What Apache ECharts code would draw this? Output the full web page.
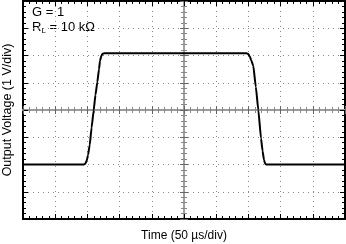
<!DOCTYPE html>
<html>
<head>
<meta charset="utf-8">
<script src="https://cdn.jsdelivr.net/npm/echarts@6/dist/echarts.min.js"></script>
<style>html,body{margin:0;padding:0;background:#fff;}#c{width:346px;height:244px;}</style>
</head>
<body>
<div id="c"></div>
<script>
// Time in microseconds (50 µs/div, 10 divisions)
var timeUs = [0, 94, 96.7, 99, 101, 103.6, 106.5, 109.8, 112.5, 115.4, 118, 119.6, 121.5, 123.5, 126, 130,
  347, 349.5, 352, 354.5, 357.6, 361.5, 365.4, 369.6, 372, 374.2, 376, 378.4, 381, 500];
// Output voltage in volts (1 V/div)
var voltsV = [-2.0, -2.0, -1.97, -1.85, -1.65, -1.28, -0.65, 0, 0.55, 1.02, 1.5, 1.8, 1.98, 2.06, 2.08, 2.08,
  2.08, 2.06, 1.97, 1.82, 1.62, 0.85, 0, -1.04, -1.5, -1.83, -1.97, -2.0, -2.0, -2.0];
var xRange = [0, 500], xStep = 50;
var yRange = [-4, 4], yStep = 1;
var xTitle = 'Time (50 µs/div)';
var yTitle = 'Output Voltage (1 V/div)';
var noteG = 'G = 1';

var data = timeUs.map(function (t, i) { return [t, voltsV[i]]; });
var font = 'Liberation Sans, Arial, sans-serif';
function xA(opts) {
  return Object.assign({
    type: 'value', min: xRange[0], max: xRange[1], interval: xStep,
    axisLabel: { show: false }, splitLine: { show: false },
    axisLine: { onZero: false, lineStyle: { color: '#000', width: 2 } },
    axisTick: { show: true, inside: true, length: 5, lineStyle: { color: '#000', width: 1 } },
    minorTick: { show: true, splitNumber: 5, length: 3, lineStyle: { color: '#000', width: 1 } }
  }, opts);
}
function yA(opts) {
  return Object.assign({
    type: 'value', min: yRange[0], max: yRange[1], interval: yStep,
    axisLabel: { show: false }, splitLine: { show: false },
    axisLine: { onZero: false, lineStyle: { color: '#000', width: 2 } },
    axisTick: { show: true, inside: true, length: 5, lineStyle: { color: '#000', width: 1 } },
    minorTick: { show: true, splitNumber: 5, length: 3, lineStyle: { color: '#000', width: 1 } }
  }, opts);
}
function grayLine(w) { return { show: true, onZero: false, lineStyle: { color: '#9a9a9a', width: w } }; }
function grayTick(inside) { return { show: true, inside: inside, length: 4, lineStyle: { color: '#666', width: 1 } }; }
function grayMinor() { return { show: true, splitNumber: 5, length: 3, lineStyle: { color: '#888', width: 1 } }; }

var chart = echarts.init(document.getElementById('c'), null, { renderer: 'canvas' });
chart.setOption({
  animation: false,
  grid: { left: 23, right: 1, top: 1, bottom: 25, outerBoundsMode: 'none' },
  xAxis: [
    xA({ position: 'bottom', name: xTitle, nameLocation: 'middle', nameGap: 11,
      nameTextStyle: { fontFamily: font, fontSize: 12, color: '#000' },
      splitLine: { show: true, lineStyle: { color: '#888', width: 1, type: [1, 4] } } }),
    xA({ position: 'top' }),
    xA({ position: 'bottom', offset: -109, axisLine: grayLine(2), axisTick: grayTick(true), minorTick: grayMinor() }),
    xA({ position: 'bottom', offset: -109, axisLine: grayLine(2), axisTick: grayTick(false), minorTick: grayMinor() })
  ],
  yAxis: [
    yA({ position: 'left', name: yTitle, nameLocation: 'middle', nameGap: 9, nameRotate: 90,
      nameTextStyle: { fontFamily: font, fontSize: 12.5, color: '#000' },
      splitLine: { show: true, lineStyle: { color: '#888', width: 1, type: [1, 4] } } }),
    yA({ position: 'right' }),
    yA({ position: 'left', offset: -161, axisLine: grayLine(1.5), axisTick: grayTick(true), minorTick: grayMinor() }),
    yA({ position: 'left', offset: -161, axisLine: grayLine(1.5), axisTick: grayTick(false), minorTick: grayMinor() })
  ],
  graphic: [
    { type: 'text', left: 32, top: 6, style: { text: noteG, font: '13px ' + font, fill: '#000' } },
    { type: 'text', left: 32, top: 21, style: {
      text: '{a|R}{b|L}{a| = 10 kΩ}', font: '13px ' + font, fill: '#000',
      rich: { a: { fontFamily: font, fontSize: 13, color: '#000' },
              b: { fontFamily: font, fontSize: 8, color: '#000', verticalAlign: 'bottom', padding: [7, 0, 0, 0] } } } }
  ],
  series: [{
    type: 'line', xAxisIndex: 0, yAxisIndex: 0, data: data, showSymbol: false,
    smooth: 0.15, smoothMonotone: 'x',
    lineStyle: { color: '#000', width: 2 }, z: 5
  }]
});
</script>
</body>
</html>
